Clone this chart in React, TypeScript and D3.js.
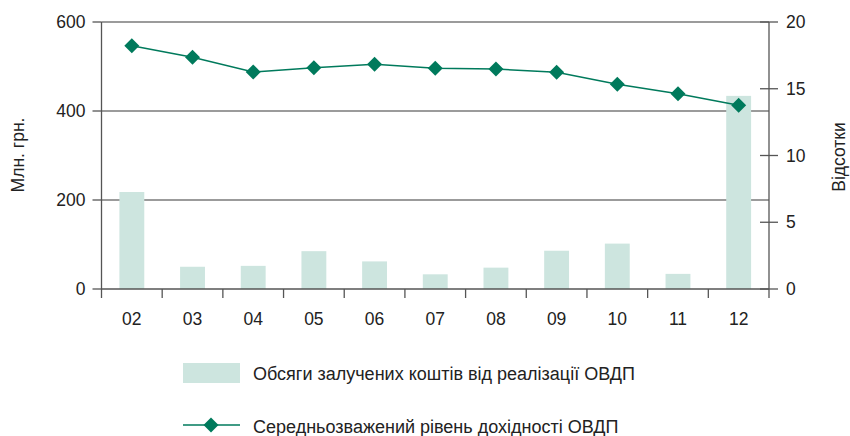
import React from "react";
import * as d3 from "d3";

const categories = ["02", "03", "04", "05", "06", "07", "08", "09", "10", "11", "12"];
const volumes = [218, 50, 52, 85, 62, 33, 48, 86, 102, 34, 434];
const yields = [18.22, 17.36, 16.25, 16.58, 16.83, 16.53, 16.48, 16.23, 15.33, 14.63, 13.76];
const leftTicks = [0, 200, 400, 600];
const rightTicks = [0, 5, 10, 15, 20];
const legendLabels = ["Обсяги залучених коштів від реалізації ОВДП", "Середньозважений рівень дохідності ОВДП"];
const axisTitles = ["Млн. грн.", "Відсотки"];

const W = 850, H = 436;
const L = 101.5, R = 769, T = 22, B = 289;
const font = "'Liberation Sans', Arial, sans-serif";
const fs = 17.5;
const barColor = "#cde5df";
const lineColor = "#007a5c";
const gridColor = "#7a7a7a";
const axisColor = "#555";
const textColor = "#222";

export default function App() {
  const x = d3.scaleBand<string>().domain(categories).range([L, R]).paddingInner(0).paddingOuter(0);
  const yL = d3.scaleLinear().domain([0, 600]).range([B, T]);
  const yR = d3.scaleLinear().domain([0, 20]).range([B, T]);
  const bw = x.bandwidth() * 0.41;
  const cx = (c: string) => (x(c) as number) + x.bandwidth() / 2;
  const linePath = d3.line<number>().x((_, i) => cx(categories[i])).y((d) => yR(d))(yields) as string;
  const diamond = (px: number, py: number, s: number) =>
    `M${px},${py - s}L${px + s},${py}L${px},${py + s}L${px - s},${py}Z`;

  return (
    <svg width={W} height={H} style={{ position: "absolute", left: 0, top: 0, background: "#fff" }}>
      {leftTicks.filter((t) => t > 0).map((t) => (
        <line key={t} x1={L} x2={R} y1={yL(t)} y2={yL(t)} stroke={gridColor} strokeWidth={1.3} />
      ))}
      {categories.map((c, i) => (
        <rect key={c} x={cx(c) - bw / 2} y={yL(volumes[i])} width={bw} height={B - yL(volumes[i])} fill={barColor} />
      ))}
      <line x1={L} x2={L} y1={T} y2={B} stroke={axisColor} strokeWidth={1.3} />
      <line x1={R} x2={R} y1={T} y2={B} stroke={axisColor} strokeWidth={1.3} />
      <line x1={L} x2={R} y1={B} y2={B} stroke={axisColor} strokeWidth={1.3} />
      {leftTicks.map((t) => (
        <g key={t}>
          <line x1={L - 9} x2={L} y1={yL(t)} y2={yL(t)} stroke={axisColor} strokeWidth={1.3} />
          <text x={L - 16} y={yL(t)} dy="0.35em" textAnchor="end" fontFamily={font} fontSize={fs} fill={textColor}>{t}</text>
        </g>
      ))}
      {rightTicks.map((t) => (
        <g key={t}>
          <line x1={R - 9} x2={R + 9} y1={yR(t)} y2={yR(t)} stroke={axisColor} strokeWidth={1.3} />
          <text x={R + 17} y={yR(t)} dy="0.35em" textAnchor="start" fontFamily={font} fontSize={fs} fill={textColor}>{t}</text>
        </g>
      ))}
      {categories.map((c, i) => (
        <g key={c}>
          {i > 0 && <line x1={x(c)} x2={x(c)} y1={B} y2={B + 9} stroke={axisColor} strokeWidth={1.3} />}
          <text x={cx(c)} y={B + 36} textAnchor="middle" fontFamily={font} fontSize={fs} fill={textColor}>{c}</text>
        </g>
      ))}
      <line x1={L} x2={L} y1={B} y2={B + 9} stroke={axisColor} strokeWidth={1.3} />
      <line x1={R} x2={R} y1={B} y2={B + 9} stroke={axisColor} strokeWidth={1.3} />
      <path d={linePath} fill="none" stroke={lineColor} strokeWidth={1.5} />
      {yields.map((v, i) => (
        <path key={i} d={diamond(cx(categories[i]), yR(v), 7.5)} fill={lineColor} />
      ))}
      <text transform={`translate(24,155) rotate(-90)`} textAnchor="middle" fontFamily={font} fontSize={fs} fill={textColor}>{axisTitles[0]}</text>
      <text transform={`translate(845,157) rotate(-90)`} textAnchor="middle" fontFamily={font} fontSize={fs} fill={textColor}>{axisTitles[1]}</text>
      <rect x={183} y={363} width={57} height={20} fill={barColor} />
      <text x={253} y={380} fontFamily={font} fontSize={18} fill={textColor}>{legendLabels[0]}</text>
      <line x1={183} x2={240} y1={425} y2={425} stroke={lineColor} strokeWidth={1.5} />
      <path d={diamond(211, 425, 7.5)} fill={lineColor} />
      <text x={253} y={433} fontFamily={font} fontSize={18} fill={textColor}>{legendLabels[1]}</text>
    </svg>
  );
}
